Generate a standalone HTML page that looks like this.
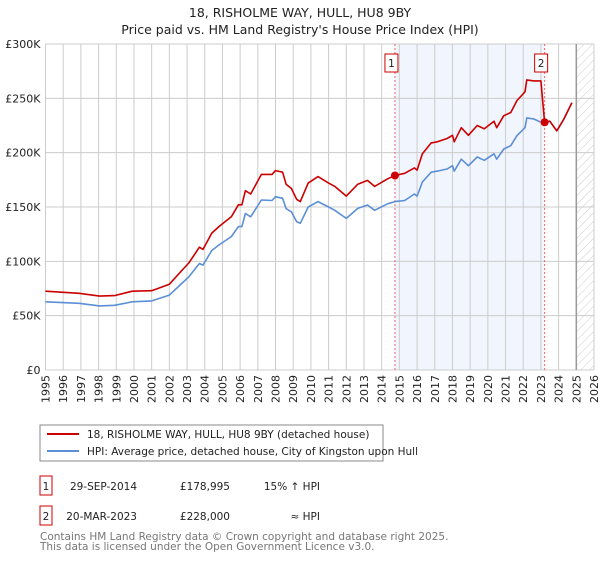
<!DOCTYPE html>
<html><head><meta charset="utf-8"><style>
body{margin:0;background:#fff;width:600px;height:560px;overflow:hidden;font-family:"DejaVu Sans","Liberation Sans",sans-serif}
svg text{font-family:"DejaVu Sans","Liberation Sans",sans-serif}
</style></head><body>
<svg id="chart" width="600" height="560" xmlns="http://www.w3.org/2000/svg">
<defs><pattern id="hatch" patternUnits="userSpaceOnUse" width="6" height="6" patternTransform="rotate(45)"><line x1="0" y1="0" x2="0" y2="6" stroke="#ccc" stroke-width="1"/></pattern></defs>
<text x="300" y="17" text-anchor="middle" font-size="12.5" fill="#222">18, RISHOLME WAY, HULL, HU8 9BY</text>
<text x="300" y="34" text-anchor="middle" font-size="12.5" fill="#222">Price paid vs. HM Land Registry's House Price Index (HPI)</text>
<g id="grid"></g><g id="marks"></g>
<rect x="40" y="425" width="343" height="36" fill="#fff" stroke="#888"/>
<line x1="47" y1="434" x2="79" y2="434" stroke="#cc0000" stroke-width="2"/>
<text x="87" y="438" font-size="10.5" fill="#222">18, RISHOLME WAY, HULL, HU8 9BY (detached house)</text>
<line x1="47" y1="451" x2="79" y2="451" stroke="#5b8fd6" stroke-width="2"/>
<text x="87" y="455" font-size="10.5" fill="#222">HPI: Average price, detached house, City of Kingston upon Hull</text>
<g>
<rect x="40" y="476" width="12" height="19" fill="#fff" stroke="#cc0000"/>
<text x="46" y="490" text-anchor="middle" font-size="10.5" fill="#222">1</text>
<text x="137" y="490" text-anchor="end" font-size="10.5" fill="#222">29-SEP-2014</text>
<text x="230" y="490" text-anchor="end" font-size="10.5" fill="#222">£178,995</text>
<text x="320" y="490" text-anchor="end" font-size="10.5" fill="#222">15% ↑ HPI</text></g>
<g>
<rect x="40" y="506" width="12" height="19" fill="#fff" stroke="#cc0000"/>
<text x="46" y="520" text-anchor="middle" font-size="10.5" fill="#222">2</text>
<text x="137" y="520" text-anchor="end" font-size="10.5" fill="#222">20-MAR-2023</text>
<text x="230" y="520" text-anchor="end" font-size="10.5" fill="#222">£228,000</text>
<text x="320" y="520" text-anchor="end" font-size="10.5" fill="#222">≈ HPI</text></g>
<text x="40" y="540" font-size="10.5" fill="#777">Contains HM Land Registry data © Crown copyright and database right 2025.</text>
<text x="40" y="550" font-size="10.5" fill="#777">This data is licensed under the Open Government Licence v3.0.</text>
</svg>
<script>
const hpiYears=[1995.0,1996.9,1998.05,1998.9,1999.9,2001.0,2002.0,2002.7,2003.1,2003.7,2003.9,2004.4,2004.8,2005.5,2005.9,2006.1,2006.3,2006.6,2007.2,2007.8,2008.0,2008.4,2008.6,2008.9,2009.2,2009.4,2009.85,2010.4,2011.0,2011.35,2012.0,2012.65,2013.2,2013.6,2014.35,2014.75,2015.3,2015.85,2016.0,2016.3,2016.8,2017.15,2017.7,2018.0,2018.1,2018.5,2018.9,2019.4,2019.8,2020.35,2020.5,2020.9,2021.3,2021.65,2022.1,2022.2,2022.6,2023.0,2023.21,2023.5,2023.9,2024.3,2024.75];
const hpiValues=[62.8,61.4,59,59.5,62.8,63.6,68.9,79.6,85.7,98,96.5,110,115,122.8,132,132,144,141,156.4,156,159.5,158,148.5,145.5,136.4,135,150,155,150,147,139.5,148.7,151.8,147,153,155,156,162,160,173,182,183,185,188,183,194,188,196,193,199,194,203.4,206.5,215.7,223,232,231,228,228,229,220,231,246];
const priceYears=[1995.0,1996.9,1998.05,1998.9,1999.9,2001.0,2002.0,2002.7,2003.1,2003.7,2003.9,2004.4,2004.8,2005.5,2005.9,2006.1,2006.3,2006.6,2007.2,2007.8,2008.0,2008.4,2008.6,2008.9,2009.2,2009.4,2009.85,2010.4,2011.0,2011.35,2012.0,2012.65,2013.2,2013.6,2014.35,2014.75,2015.3,2015.85,2016.0,2016.3,2016.8,2017.15,2017.7,2018.0,2018.1,2018.5,2018.9,2019.4,2019.8,2020.35,2020.5,2020.9,2021.3,2021.65,2022.1,2022.2,2022.6,2023.0,2023.21,2023.5,2023.9,2024.3,2024.75];
const priceValues=[72.5,70.6,68,68.5,72.5,73,79,91.5,98.5,113,111,126,132,141,152,152,165,162,180,180,183.5,182,171,167,157,155,172,178,172,169,160,171,174.5,169,176,179,181,186,184,199,209,210,213,216,210,223,216,225,222,229,223,234,237,248,256,267,266,266,228,229,220,231,246];
const sales=[{n:"1",year:2014.75,value:178.995},{n:"2",year:2023.21,value:228}];
const yTicks=[0,50,100,150,200,250,300];
const yTickLabels=["£0","£50K","£100K","£150K","£200K","£250K","£300K"];
const xTicks=[1995,1996,1997,1998,1999,2000,2001,2002,2003,2004,2005,2006,2007,2008,2009,2010,2011,2012,2013,2014,2015,2016,2017,2018,2019,2020,2021,2022,2023,2024,2025,2026];
const NS="http://www.w3.org/2000/svg";
const X0=45.5,X1=594,Y0=370,Y1=44;
function x(yr){return X0+(yr-1995)/31*(X1-X0);}
function y(v){return Y0-v/300*(Y0-Y1);}
function mk(tag,attrs,parent){const e=document.createElementNS(NS,tag);for(const k in attrs)e.setAttribute(k,attrs[k]);parent.appendChild(e);return e;}
const grid=document.getElementById('grid'),marks=document.getElementById('marks');
const bg=mk('rect',{x:X0,y:Y1,width:X1-X0,height:Y0-Y1,fill:'#fff'},grid);


const shade=mk('rect',{x:x(sales[0].year),y:Y1,width:x(sales[1].year)-x(sales[0].year),height:Y0-Y1,fill:'#eef3fd',opacity:0.8},grid);


const hatch=mk('rect',{x:x(2025),y:Y1,width:X1-x(2025),height:Y0-Y1,fill:'url(#hatch)'},grid);


xTicks.forEach(t=>{
 const l=mk('line',{x1:x(t),x2:x(t),y1:Y1,y2:Y0,stroke:'#ccc','stroke-width':1},grid);
 
 
 const tx=mk('text',{transform:`translate(${x(t)+4},${Y0+5}) rotate(-90)`,'text-anchor':'end','font-size':11,fill:'#222'},grid);
 tx.textContent=t;
 
 
});
yTicks.forEach((t,i)=>{
 const l=mk('line',{x1:X0,x2:X1,y1:y(t),y2:y(t),stroke:'#ccc','stroke-width':1},grid);
 
 
 const tx=mk('text',{x:X0-5,y:y(t)+4,'text-anchor':'end','font-size':11,fill:'#222'},grid);
 tx.textContent=yTickLabels[i];
 
 
});
const edge=mk('line',{x1:x(2025),x2:x(2025),y1:Y1,y2:Y0,stroke:'#999','stroke-width':1.5},grid);


sales.forEach(s=>{
 const l=mk('line',{x1:x(s.year),x2:x(s.year),y1:Y1,y2:Y0,stroke:'#e66','stroke-width':1,'stroke-dasharray':'2,2'},marks);
 
 
});
function path(xs,vs,color,name){
 const d=xs.map((t,i)=>(i?'L':'M')+x(t).toFixed(1)+','+y(vs[i]).toFixed(1)).join('');
 const p=mk('path',{d:d,fill:'none',stroke:color,'stroke-width':1.6,'stroke-linejoin':'round'},marks);
 
 
}
path(hpiYears,hpiValues,'#5b8fd6','hpi-line');
path(priceYears,priceValues,'#cc0000','price-paid-line');
sales.forEach(s=>{
 const c=mk('circle',{cx:x(s.year),cy:y(s.value),r:4,fill:'#cc0000'},marks);
 
 
 const r=mk('rect',{x:x(s.year)-10,y:54,width:13,height:18,fill:'#fff',stroke:'#cc0000'},marks);
 
 
 const t=mk('text',{x:x(s.year)-3.5,y:67,'text-anchor':'middle','font-size':10.5,fill:'#222'},marks);
 t.textContent=s.n;
 
 
});
</script>
</body></html>
